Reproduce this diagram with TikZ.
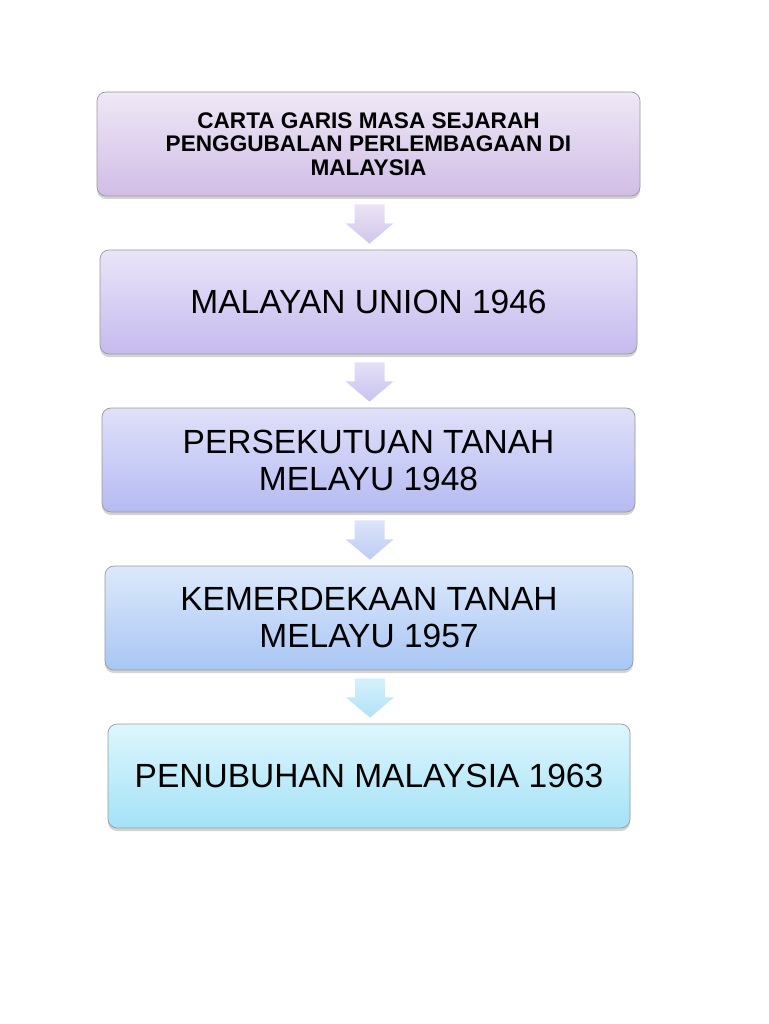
\documentclass[tikz,border=0pt]{standalone}
\usepackage{fontspec}
\setmainfont{Liberation Sans}
\usepackage{tikz}
\usetikzlibrary{positioning,calc,shadows}

%box colours
\definecolor{boxtopA}{HTML}{EFE8F6}
\definecolor{boxbotA}{HTML}{D0BDE6}
\definecolor{boxtopB}{HTML}{E9E5F8}
\definecolor{boxbotB}{HTML}{C6BAEE}
\definecolor{boxtopC}{HTML}{E0E0F9}
\definecolor{boxbotC}{HTML}{B5BBF2}
\definecolor{boxtopD}{HTML}{DCE9FB}
\definecolor{boxbotD}{HTML}{A9C6F4}
\definecolor{boxtopE}{HTML}{DDF6FD}
\definecolor{boxbotE}{HTML}{A4E2F7}

%arrow colours
\definecolor{arrtopA}{HTML}{ECE3F5}
\definecolor{arrbotA}{HTML}{D2C5EB}
\definecolor{arrtopB}{HTML}{E5E0F7}
\definecolor{arrbotB}{HTML}{C7C3F0}
\definecolor{arrtopC}{HTML}{DDE4FA}
\definecolor{arrbotC}{HTML}{BCCCF4}
\definecolor{arrtopD}{HTML}{D6F0FC}
\definecolor{arrbotD}{HTML}{B0E2F6}

\begin{document}
\begin{tikzpicture}[x=1pt,y=1pt,
		box/.style={rectangle,rounded corners=9pt,draw=black!40,line width=.7pt,minimum height=104pt,align=center,text=black,
			drop shadow={shadow xshift=0pt,shadow yshift=-3pt,opacity=.35}},
		bigtext/.style={font=\fontsize{33.5}{37}\selectfont},
		titletext/.style={font=\bfseries\fontsize{22.6}{23.5}\selectfont}]
			\useasboundingbox (0,0) rectangle (768,-1024);

			%boxes
			\node [box,titletext,minimum width=543pt,top color=boxtopA,bottom color=boxbotA] (title) at (368.5,-144) {CARTA GARIS MASA SEJARAH\\PENGGUBALAN PERLEMBAGAAN DI\\MALAYSIA};
			\node [box,bigtext,minimum width=537pt,top color=boxtopB,bottom color=boxbotB] (union) at (368.5,-302) {MALAYAN UNION 1946};
			\node [box,bigtext,minimum width=533pt,top color=boxtopC,bottom color=boxbotC] (ptm) at (368.5,-460) {PERSEKUTUAN TANAH\\MELAYU 1948};
			\node [box,bigtext,minimum width=528pt,top color=boxtopD,bottom color=boxbotD] (merdeka) at (369,-618) {KEMERDEKAAN TANAH\\MELAYU 1957};
			\node [box,bigtext,minimum width=522pt,top color=boxtopE,bottom color=boxbotE] (malaysia) at (369,-776) {PENUBUHAN MALAYSIA 1963};

			%arrows
			\foreach \from/\to/\ctop/\cbot in {title/union/arrtopA/arrbotA,union/ptm/arrtopB/arrbotB,ptm/merdeka/arrtopC/arrbotC,merdeka/malaysia/arrtopD/arrbotD}
				\shade [top color=\ctop,bottom color=\cbot] ($(\from.south)+(-14,-8)$) -- ($(\from.south)+(16,-8)$) -- ($(\from.south)+(16,-27)$) -- ($(\from.south)+(25,-27)$) -- ($(\to.north)+(1,6)$) -- ($(\from.south)+(-23,-27)$) -- ($(\from.south)+(-14,-27)$) -- cycle;
		\end{tikzpicture}
\end{document}
